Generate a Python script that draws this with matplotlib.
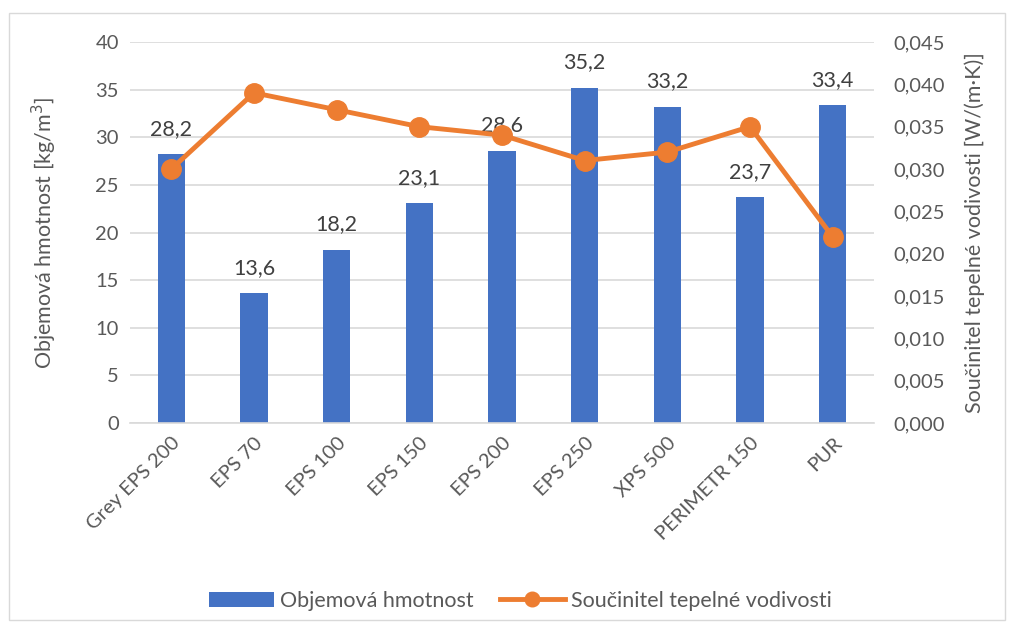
import matplotlib.pyplot as plt
from matplotlib.patches import Rectangle
import numpy as np

plt.rcParams['font.family'] = ['Lato', 'DejaVu Sans']

categories = ['Grey EPS 200', 'EPS 70', 'EPS 100', 'EPS 150', 'EPS 200',
              'EPS 250', 'XPS 500', 'PERIMETR 150', 'PUR']
density = [28.2, 13.6, 18.2, 23.1, 28.6, 35.2, 33.2, 23.7, 33.4]
conductivity = [0.030, 0.039, 0.037, 0.035, 0.034, 0.031, 0.032, 0.035, 0.022]

blue = '#4472c4'
orange = '#ed7d31'
grey_txt = '#595959'

fig = plt.figure(figsize=(10.11, 6.29), dpi=100)
fig.patches.append(Rectangle((0.009, 0.014), 0.985, 0.966, transform=fig.transFigure,
                             fill=False, edgecolor='#d9d9d9', linewidth=1))
ax = fig.add_axes([0.1286, 0.3275, 0.7359, 0.6057])
x = np.arange(len(categories))

bars = ax.bar(x, density, width=0.33, color=blue, zorder=2, label='Objemová hmotnost')
for xi, v in zip(x, density):
    ax.annotate(f'{v:.1f}'.replace('.', ','), (xi, v), xytext=(0, 11),
                textcoords='offset points', ha='center', va='bottom',
                fontsize=15.5, color='#404040', zorder=5)

ax.set_ylim(0, 40)
ax.set_yticks(range(0, 41, 5))
ax.set_xlim(-0.5, len(categories) - 0.5)
ax.set_xticks(x)
ax.set_xticklabels(categories, rotation=45, ha='right', rotation_mode='anchor')
ax.grid(axis='y', color='#d9d9d9', linewidth=1.2, zorder=0)
ax.set_axisbelow(True)
for s in ['top', 'right', 'left']:
    ax.spines[s].set_visible(False)
ax.spines['bottom'].set_color('#d9d9d9')
ax.spines['bottom'].set_linewidth(1.2)
ax.tick_params(axis='both', length=0, labelsize=14.5, colors=grey_txt, pad=8)
ax.set_ylabel('Objemová hmotnost [kg/m$^3$]', fontsize=15.5, color=grey_txt, labelpad=26)

ax2 = ax.twinx()
line, = ax2.plot(x, conductivity, color=orange, linewidth=3.5, marker='o',
                 markersize=14, zorder=4, label='Součinitel tepelné vodivosti')
ax2.set_ylim(0, 0.045)
ax2.set_yticks(np.arange(0, 0.0451, 0.005))
ax2.set_yticklabels([f'{t:.3f}'.replace('.', ',') for t in np.arange(0, 0.0451, 0.005)])
for s in ax2.spines.values():
    s.set_visible(False)
ax2.tick_params(axis='y', length=0, labelsize=14.5, colors=grey_txt, pad=14)
ax2.set_ylabel('Součinitel tepelné vodivosti [W/(m·K)]', fontsize=15.5, color=grey_txt, labelpad=14)

fig.legend(handles=[bars, line], loc='center', bbox_to_anchor=(0.515, 0.045), ncol=2,
           frameon=False, fontsize=15.5, labelcolor=grey_txt, columnspacing=1.2,
           handlelength=3.0, handletextpad=0.3, markerscale=0.75)

fig.savefig('out.png', dpi=100)
